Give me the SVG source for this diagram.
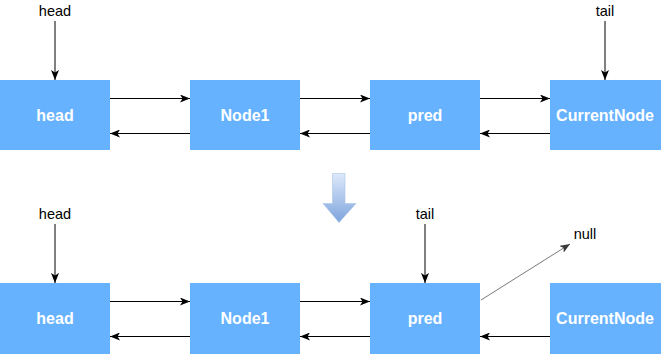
<svg xmlns="http://www.w3.org/2000/svg" width="661" height="354" viewBox="0 0 661 354">
<defs>
<style>
.box{fill:#66B2FF;}
.lbl{font-family:"Liberation Sans",Arial,sans-serif;font-size:16px;font-weight:bold;fill:#ffffff;text-anchor:middle;}
.ptr{font-family:"Liberation Sans",Arial,sans-serif;font-size:14.5px;fill:#000000;text-anchor:middle;}
.edge{stroke:#000000;stroke-width:1;fill:none;marker-end:url(#ah);}
.gedge{stroke:#7a7a7a;stroke-width:1;fill:none;marker-end:url(#gah);}
</style>
<marker id="ah" viewBox="0 0 10 8" refX="10" refY="4" markerWidth="10" markerHeight="8" markerUnits="userSpaceOnUse" orient="auto">
<path d="M0,0 L10,4 L0,8 L2.5,4 z" fill="#000000"/>
</marker>
<marker id="gah" viewBox="0 0 10 8" refX="10" refY="4" markerWidth="10" markerHeight="8" markerUnits="userSpaceOnUse" orient="auto">
<path d="M0,0 L10,4 L0,8 L2.5,4 z" fill="#3a3a3a"/>
</marker>
<linearGradient id="bg" x1="0" y1="0" x2="0" y2="1">
<stop offset="0" stop-color="#dde9fb"/>
<stop offset="1" stop-color="#7da4dc"/>
</linearGradient>
</defs>

<g id="top-head"><rect class="box" x="0" y="80" width="110" height="70"/><text class="lbl" x="55" y="121">head</text></g>
<g id="top-node1"><rect class="box" x="190" y="80" width="110" height="70"/><text class="lbl" x="245" y="121">Node1</text></g>
<g id="top-pred"><rect class="box" x="370" y="80" width="110" height="70"/><text class="lbl" x="425" y="121">pred</text></g>
<g id="top-current"><rect class="box" x="550" y="80" width="111" height="70"/><text class="lbl" x="605" y="121">CurrentNode</text></g>
<g id="top-head-ptr"><text class="ptr" x="55" y="16">head</text></g>
<g id="top-tail-ptr"><text class="ptr" x="605" y="16">tail</text></g>

<g id="bot-head"><rect class="box" x="0" y="283" width="110" height="71"/><text class="lbl" x="55" y="324">head</text></g>
<g id="bot-node1"><rect class="box" x="190" y="283" width="110" height="71"/><text class="lbl" x="245" y="324">Node1</text></g>
<g id="bot-pred"><rect class="box" x="370" y="283" width="110" height="71"/><text class="lbl" x="425" y="324">pred</text></g>
<g id="bot-current"><rect class="box" x="550" y="283" width="111" height="71"/><text class="lbl" x="605" y="324">CurrentNode</text></g>
<g id="bot-head-ptr"><text class="ptr" x="55" y="219">head</text></g>
<g id="bot-tail-ptr"><text class="ptr" x="425" y="219">tail</text></g>
<g id="bot-null"><text class="ptr" x="585" y="239">null</text></g>

<g id="transition-arrow">
<path d="M332.5,173.5 L345,173.5 L345,203.5 L356,203.5 L339,222.5 L323,203.5 L332.5,203.5 z" fill="url(#bg)" stroke="#a9c2e6" stroke-width="0.6"/>
</g>

<g id="connectors">
<line class="edge" x1="55" y1="21" x2="55" y2="80"/>
<line class="edge" x1="605" y1="21" x2="605" y2="80"/>
<line class="edge" x1="110" y1="98.5" x2="190" y2="98.5"/>
<line class="edge" x1="190" y1="133.5" x2="110" y2="133.5"/>
<line class="edge" x1="300" y1="98.5" x2="370" y2="98.5"/>
<line class="edge" x1="370" y1="133.5" x2="300" y2="133.5"/>
<line class="edge" x1="480" y1="98.5" x2="550" y2="98.5"/>
<line class="edge" x1="550" y1="133.5" x2="480" y2="133.5"/>

<line class="edge" x1="55" y1="224" x2="55" y2="283"/>
<line class="edge" x1="425" y1="224" x2="425" y2="283"/>
<line class="edge" x1="110" y1="301.5" x2="190" y2="301.5"/>
<line class="edge" x1="190" y1="336.5" x2="110" y2="336.5"/>
<line class="edge" x1="300" y1="301.5" x2="370" y2="301.5"/>
<line class="edge" x1="370" y1="336.5" x2="300" y2="336.5"/>
<line class="edge" x1="550" y1="336.5" x2="480" y2="336.5"/>
<line class="gedge" x1="481" y1="300" x2="570" y2="244"/>
</g>
</svg>
